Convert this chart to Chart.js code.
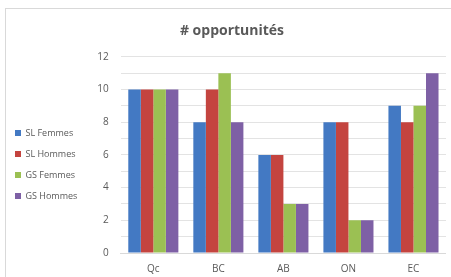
<!DOCTYPE html>
<html>
<head>
<meta charset="utf-8">
<script src="https://cdn.jsdelivr.net/npm/chart.js@4"></script>
<style>
  html, body { margin: 0; padding: 0; background: #fff; overflow: hidden; }
  #frame {
    position: absolute; left: 5px; top: 8px;
    width: 470px; height: 290px;
    border: 1px solid #d9d9d9; box-sizing: border-box;
  }
  #chart { display: block; }
</style>
</head>
<body>
<div id="frame"><canvas id="chart" width="440" height="268"></canvas></div>
<script>
const categories = ["Qc", "BC", "AB", "ON", "EC"];
const slFemmes = [10, 8, 6, 8, 9];
const slHommes = [10, 10, 6, 8, 8];
const gsFemmes = [10, 11, 3, 2, 9];
const gsHommes = [10, 8, 3, 2, 11];

const textColor = "#595959";
const fontFamily = "'Open Sans', 'Liberation Sans', sans-serif";

// nudge legend down/left and title right, like the original
const nudge = {
    id: "nudge",
    afterLayout(chart) {
        const lg = chart.legend;
        lg.top += 20; lg.bottom += 20;
        lg.left -= 3; lg.right -= 3;
        const t = chart.titleBlock;
        t.left += 6; t.right += 6;
    }
};

const ctx = document.getElementById("chart");

new Chart(ctx, {
    type: "bar",
    data: {
        labels: categories,
        datasets: [
            { label: "SL Femmes", data: slFemmes, backgroundColor: "#4379C3" },
            { label: "SL Hommes", data: slHommes, backgroundColor: "#C4443F" },
            { label: "GS Femmes", data: gsFemmes, backgroundColor: "#9BC053" },
            { label: "GS Hommes", data: gsHommes, backgroundColor: "#7E60A5" }
        ]
    },
    plugins: [nudge],
    options: {
        responsive: false,
        animation: false,
        layout: { padding: { top: 3, right: 0, bottom: 0, left: 0 } },
        datasets: {
            bar: { categoryPercentage: 0.77, barPercentage: 1.0 }
        },
        plugins: {
            title: {
                display: true,
                text: "# opportunités",
                color: textColor,
                font: { family: fontFamily, size: 14, weight: "bold" },
                padding: { top: 10.5, bottom: 17.5 }
            },
            legend: {
                position: "left",
                labels: {
                    color: textColor,
                    font: { family: fontFamily, size: 9 },
                    boxWidth: 6,
                    boxHeight: 6,
                    padding: 12
                }
            },
            tooltip: { enabled: false }
        },
        scales: {
            x: {
                grid: { display: false, tickLength: 8 },
                border: { color: "#d9d9d9" },
                ticks: { color: textColor, padding: 2, font: { family: fontFamily, size: 10 } }
            },
            y: {
                min: 0,
                max: 12,
                grid: { color: "#e3e3e3", tickLength: 5, tickColor: "rgba(0,0,0,0)" },
                border: { display: false },
                ticks: {
                    stepSize: 1,
                    padding: 7,
                    color: textColor,
                    font: { family: fontFamily, size: 10 },
                    callback: (v) => (v % 2 === 0 ? v : "")
                }
            }
        }
    }
});
</script>
</body>
</html>
